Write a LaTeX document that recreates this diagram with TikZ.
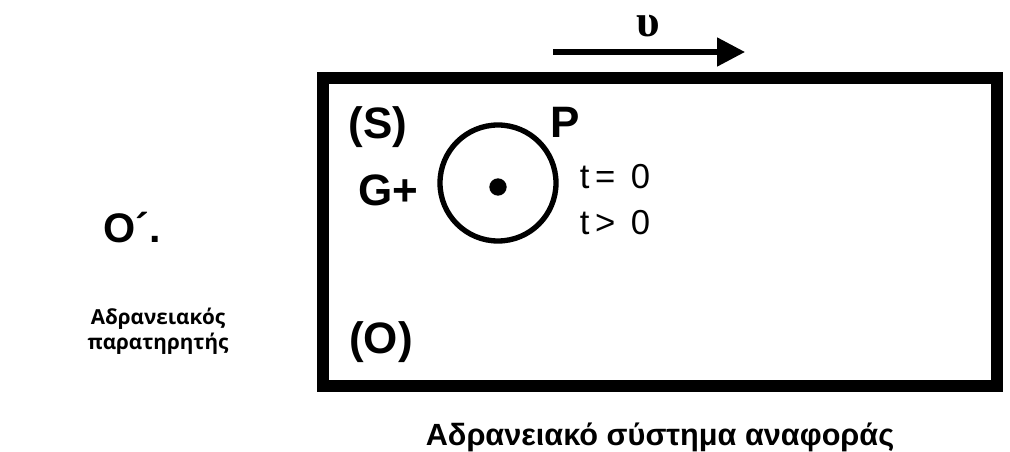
\documentclass[tikz,border=0pt]{standalone}
\usepackage{fontspec}
\setmainfont{Liberation Sans}
\newfontfamily\greekfont{Open Sans}
\newfontfamily\serifgr{Liberation Serif}
\usetikzlibrary{arrows.meta}
\tikzset{
  lbl/.style={font=\fontsize{33}{38}\selectfont\bfseries, inner sep=0pt},
  tlbl/.style={font=\fontsize{26}{30}\selectfont, inner sep=0pt},
  grlbl/.style={font=\greekfont\fontsize{15.5}{19}\selectfont\bfseries, inner sep=0pt, align=center},
  frame/.style={line width=9pt},
  move/.style={-{Triangle[length=21pt, width=21pt]}, line width=3.8pt},
}
\begin{document}
\begin{tikzpicture}[x=0.75pt, y=-0.75pt]
    \useasboundingbox (0,0) rectangle (1010,452);
    % frame of reference
    \draw[frame] (323,78) rectangle (997,386);
    % velocity
    \coordinate (vs) at (553,52);
    \coordinate (ve) at (745,52);
    \draw[move] (vs) -- (ve);
    \node[font=\serifgr\fontsize{34}{38}\selectfont\bfseries, inner sep=0pt] (vel) at (648,26) {υ};
    % circle and point
    \node[circle, draw, line width=4pt, minimum size=87pt, inner sep=0pt] (ring) at (498,183) {};
    \node[circle, fill, minimum size=13pt, inner sep=0pt] (dot) at (498,187) {};
    % labels
    \node[lbl] (S) at (378,127) {(S)};
    \node[lbl] (P) at (565,122) {P};
    \node[lbl] (G) at (388,190) {G+};
    \node[lbl] (O) at (381,342) {(O)};
    \node[tlbl] (t0) at (615,177) {t\,= \,0};
    \node[tlbl] (t1) at (615,223) {t\,> \,0};
    % observer
    \node[lbl, font=\fontsize{31}{36}\selectfont\bfseries] (obs) at (132,228) {O´.};
    \node[grlbl] (obstxt) at (158,331) {Αδρανειακός\\παρατηρητής};
    \node[inner sep=0pt, font=\fontsize{23}{27}\selectfont\bfseries] (sys) at (660,437) {Αδρανειακό σύστημα αναφοράς};
\end{tikzpicture}
\end{document}
